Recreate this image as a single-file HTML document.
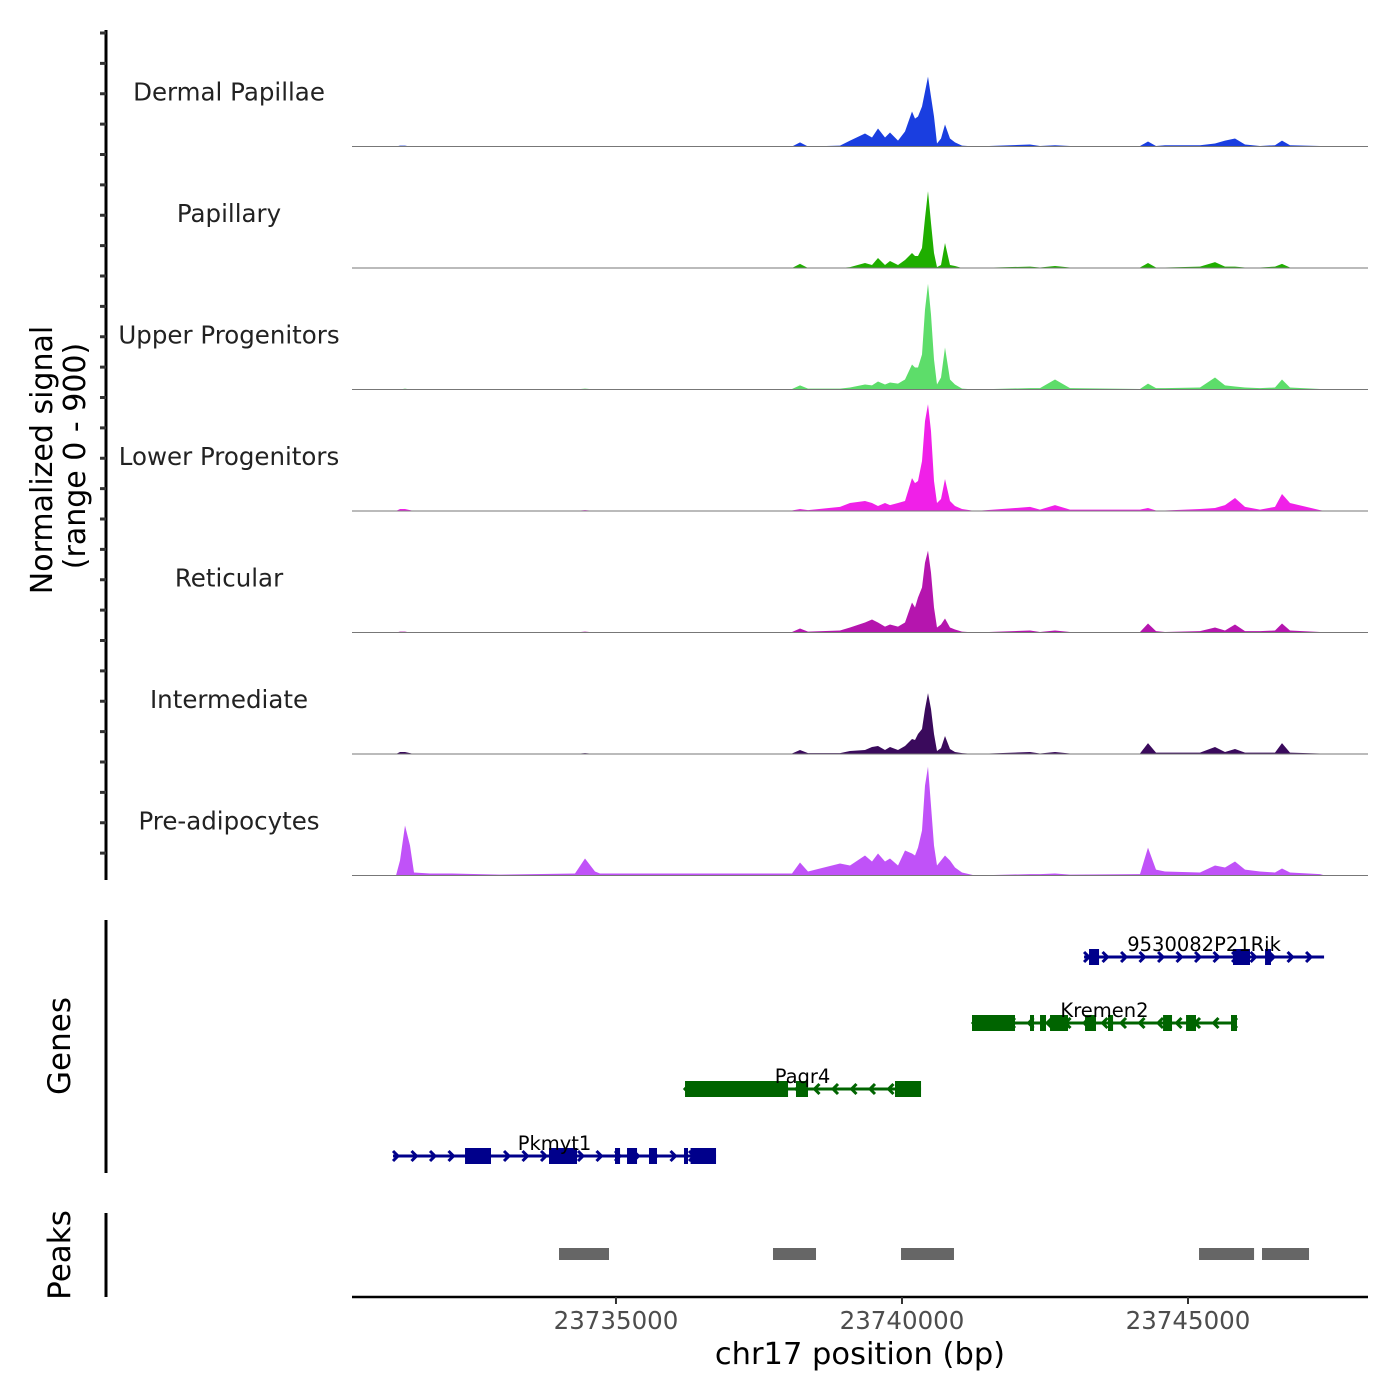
<!DOCTYPE html>
<html><head><meta charset="utf-8"><style>
html,body{margin:0;padding:0;background:#fff;}
svg{display:block;font-family:"DejaVu Sans","Liberation Sans",sans-serif;}
</style></head><body>
<svg id="chart" width="1400" height="1400" viewBox="0 0 1400 1400" xmlns="http://www.w3.org/2000/svg">
<rect width="1400" height="1400" fill="#fff"/>
<g id="tracks"></g>
<g id="genes"></g>
<g id="peaks"></g>
<g id="axes"></g>
</svg>
<script>
// ---- data ----
const positions = [23730385,23731154,23731224,23731312,23731399,23731469,23731749,23732133,23732972,23734283,23734458,23734633,23734721,23735682,23737518,23738077,23738217,23738357,23738916,23739091,23739353,23739476,23739580,23739703,23739790,23739930,23740052,23740175,23740227,23740280,23740350,23740402,23740455,23740507,23740560,23740612,23740682,23740752,23740840,23740927,23741050,23741277,23742238,23742413,23742675,23742938,23744161,23744301,23744441,23744598,23745210,23745472,23745647,23745822,23745997,23746259,23746522,23746644,23746784,23747308,23747395];
const trackNames = ["Dermal Papillae","Papillary","Upper Progenitors","Lower Progenitors","Reticular","Intermediate","Pre-adipocytes"];
const trackColors = ["#1a3ee0","#1fae00","#5ddd6a","#f020e8","#b515ae","#3a0a5c","#c052f8"];
const dermalPapillae = [0,0,7,7,0,0,0,4,4,0,0,0,0,0,0,0,30,0,7,44,96,67,133,67,104,44,111,259,207,222,296,407,518,370,222,22,59,163,59,30,7,0,15,4,10,4,4,37,4,10,10,22,44,59,15,4,10,44,10,4,0];
const papillary = [0,0,0,0,0,0,0,0,0,0,0,0,0,0,0,0,30,0,0,7,37,22,74,22,52,22,59,111,89,89,148,370,570,333,111,7,22,185,22,15,0,0,10,4,15,4,4,37,4,4,10,44,10,10,4,4,10,30,4,0,0];
const upperProgenitors = [0,0,0,7,0,0,0,0,0,0,7,0,0,0,0,4,30,7,7,15,37,30,59,37,52,44,74,185,163,163,259,592,784,555,222,37,89,311,74,37,7,0,10,10,74,10,4,44,10,10,15,89,30,22,15,10,15,74,15,4,0];
const lowerProgenitors = [0,0,15,15,7,0,4,4,4,0,7,0,0,0,0,4,15,7,30,59,74,59,37,59,44,59,74,244,207,222,370,666,792,592,222,59,89,237,74,37,15,0,30,10,44,10,10,22,4,4,15,22,44,96,30,10,30,126,59,7,0];
const reticular = [0,0,7,7,0,0,0,0,4,0,7,0,0,0,0,4,30,7,15,37,74,96,74,44,59,44,74,222,185,259,333,518,607,444,185,37,59,104,37,22,7,0,15,4,15,4,4,67,10,4,10,37,15,59,10,10,15,67,15,4,0];
const intermediate = [0,0,15,15,7,0,4,4,4,0,7,0,0,0,0,4,30,7,7,22,30,52,59,30,52,30,59,111,104,148,185,333,451,333,148,22,44,133,37,15,7,0,15,4,15,4,4,81,10,10,10,52,15,37,10,10,10,81,10,4,0];
const preAdipocytes = [0,0,111,370,222,22,15,15,7,15,126,30,15,15,15,15,96,30,89,74,148,104,163,104,126,74,185,163,148,207,333,666,807,518,222,74,111,148,111,59,22,0,10,10,15,7,10,207,44,30,22,74,59,104,44,30,22,52,22,10,0];
const xTicks = [23735000,23740000,23745000];
const xTickLabels = ["23735000","23740000","23745000"];
const geneNames = ["9530082P21Rik","Kremen2","Paqr4","Pkmyt1"];
const geneStrands = [1,-1,-1,1];
const geneStarts = [23743183,23741224,23736189,23731102];
const geneEnds = [23747379,23745857,23740333,23736749];
const geneExonStarts = [[23743270,23745787,23746347],[23741224,23742238,23742413,23742588,23743200,23743602,23744564,23744966,23745752],[23736207,23738147,23739878],[23732361,23733829,23734983,23735193,23735577,23736189,23736304]];
const geneExonEnds = [[23743445,23746084,23746451],[23741976,23742308,23742518,23742903,23743392,23743690,23744721,23745140,23745857],[23738008,23738357,23740333],[23732815,23734319,23735071,23735368,23735717,23736259,23736749]];
const peakStarts = [23734004,23737745,23739983,23745193,23746294];
const peakEnds = [23734878,23738497,23740909,23746155,23747116];

// ---- scales ----
const NS="http://www.w3.org/2000/svg";
const X0=352,X1=1368,BP0=23730385,BP1=23748147;
const xs = bp => X0+(bp-BP0)/(BP1-BP0)*(X1-X0);
const TOP=25, TH=121.5, YMAX=900;
const ys = (i,v) => TOP+TH*(i+1) - v/YMAX*TH;
function mk(tag,attrs,parent){const e=document.createElementNS(NS,tag);for(const k in attrs)e.setAttribute(k,attrs[k]);parent.appendChild(e);return e;}

const series=[dermalPapillae,papillary,upperProgenitors,lowerProgenitors,reticular,intermediate,preAdipocytes];
const tg=document.getElementById('tracks');
series.forEach((vals,i)=>{
  const base=ys(i,0);
  let d='M'+xs(positions[0])+','+base;
  vals.forEach((v,j)=>{d+=' L'+xs(positions[j]).toFixed(1)+','+ys(i,v).toFixed(1);});
  d+=' L'+xs(positions[positions.length-1]).toFixed(1)+','+base+' Z';
  const p=mk('path',{d:d,fill:trackColors[i]},tg);
  
  
  const l=mk('line',{x1:X0,x2:X1,y1:base,y2:base,stroke:'#777','stroke-width':1},tg);
  
  
  const t=mk('text',{x:229,y:base-46,'text-anchor':'middle','font-size':24.5,fill:'#222'},tg);
  t.textContent=trackNames[i];
  
  
});

// genes
const gg=document.getElementById('genes');
const geneY=[957,1023,1089,1156];
const geneCol=[ "#00008b","#006400","#006400","#00008b"];
geneNames.forEach((n,i)=>{
  const y=geneY[i],c=geneCol[i];
  const g=mk('g',{},gg);
  
  
  const a=xs(geneStarts[i]),b=xs(geneEnds[i]);
  mk('line',{x1:a,x2:b,y1:y,y2:y,stroke:c,'stroke-width':3},g);
  for(let x=a+3;x<=b-2;x+=18.5){
    const s=geneStrands[i];
    mk('polyline',{points:(x-3*s)+','+(y-5)+' '+(x+2*s)+','+y+' '+(x-3*s)+','+(y+5),fill:'none',stroke:c,'stroke-width':3},g);
  }
  geneExonStarts[i].forEach((s,k)=>{
    const ex=xs(s),ee=xs(geneExonEnds[i][k]);
    mk('rect',{x:ex,y:y-8,width:Math.max(ee-ex,3),height:16,fill:c},g);
  });
  const t=mk('text',{x:(a+b)/2,y:y-6,'text-anchor':'middle','font-size':19.5,fill:'#000'},g);
  t.textContent=n;
});

// peaks
const pg=document.getElementById('peaks');
peakStarts.forEach((s,i)=>{
  const r=mk('rect',{x:xs(s),y:1248,width:xs(peakEnds[i])-xs(s),height:12,fill:'#666'},pg);
  
  
});

// axes
const ag=document.getElementById('axes');
mk('line',{x1:106,x2:106,y1:30,y2:880,stroke:'#000','stroke-width':3},ag);
for(let k=0;k<=28;k++){const y=TOP+8+k*TH*4/16; if(y>877)break; mk('line',{x1:100,x2:106,y1:y,y2:y,stroke:'#333','stroke-width':3},ag);}
mk('line',{x1:106,x2:106,y1:920,y2:1173,stroke:'#000','stroke-width':3},ag);
mk('line',{x1:106,x2:106,y1:1213,y2:1297,stroke:'#000','stroke-width':3},ag);
mk('line',{x1:352,x2:1368,y1:1297,y2:1297,stroke:'#000','stroke-width':2.5},ag);
xTicks.forEach((v,i)=>{
  const x=xs(v);
  mk('line',{x1:x,x2:x,y1:1297,y2:1304,stroke:'#333','stroke-width':2},ag);
  const t=mk('text',{x:x,y:1329,'text-anchor':'middle','font-size':24.5,fill:'#4d4d4d'},ag);
  t.textContent=xTickLabels[i];
  
  
});
</script>
<svg style="position:absolute;left:0;top:0" width="1400" height="1400">
<text x="860" y="1364" text-anchor="middle" font-size="30.5" fill="#000" font-family="DejaVu Sans, Liberation Sans, sans-serif">chr17 position (bp)</text>
<text transform="translate(52,460) rotate(-90)" text-anchor="middle" font-size="30" fill="#000" font-family="DejaVu Sans, Liberation Sans, sans-serif">Normalized signal</text>
<text transform="translate(85,456) rotate(-90)" text-anchor="middle" font-size="30" fill="#000" font-family="DejaVu Sans, Liberation Sans, sans-serif">(range 0 - 900)</text>
<text transform="translate(70,1046) rotate(-90)" text-anchor="middle" font-size="31" fill="#000" font-family="DejaVu Sans, Liberation Sans, sans-serif">Genes</text>
<text transform="translate(70,1255) rotate(-90)" text-anchor="middle" font-size="31" fill="#000" font-family="DejaVu Sans, Liberation Sans, sans-serif">Peaks</text>
</svg>
</body></html>
